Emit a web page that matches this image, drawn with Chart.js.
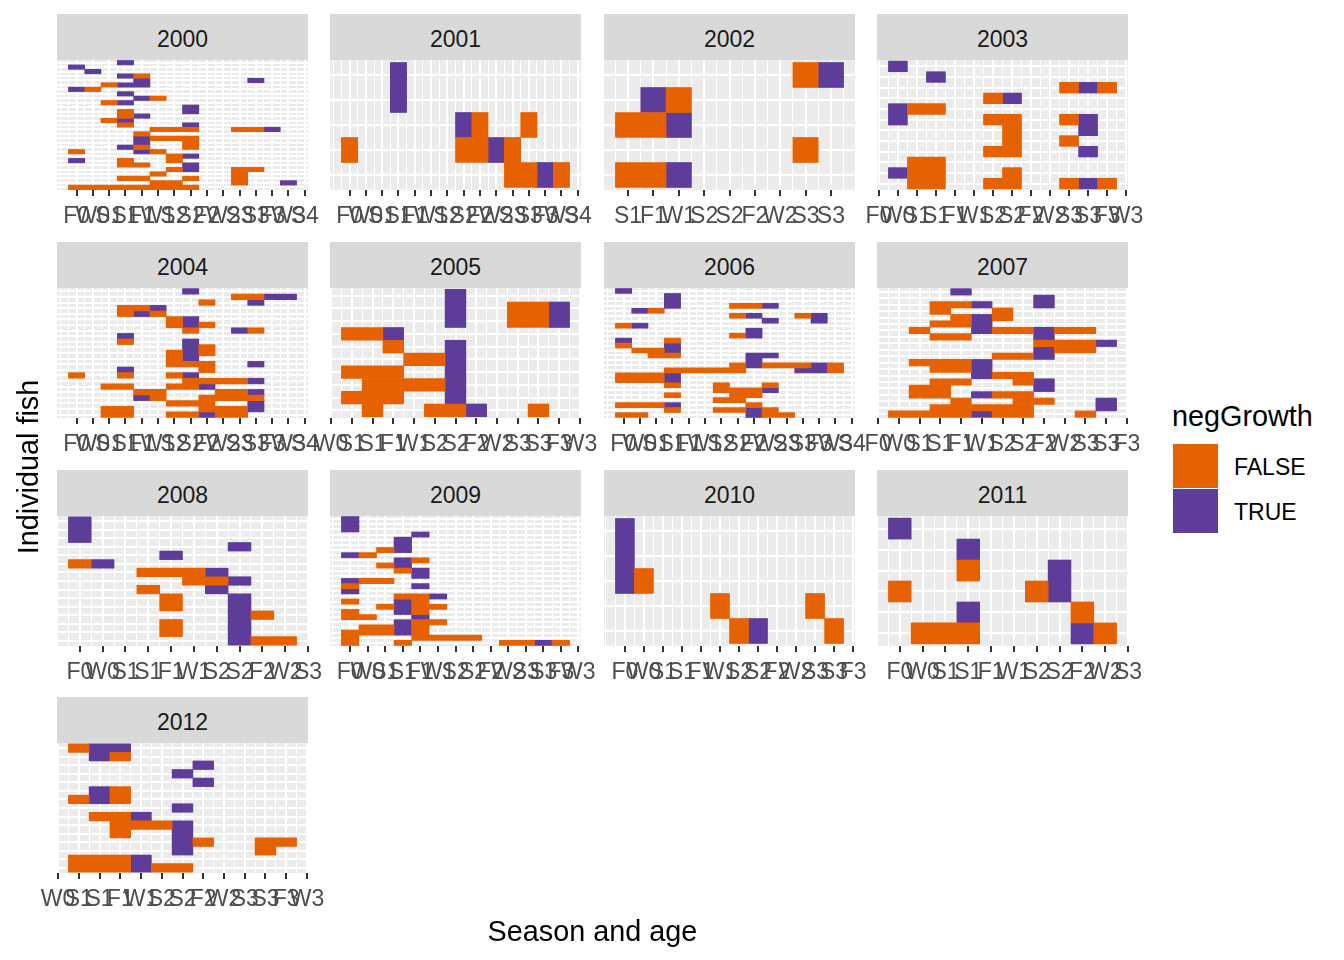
<!DOCTYPE html>
<html><head><meta charset="utf-8">
<script src="https://cdn.jsdelivr.net/npm/chart.js@4.4.1/dist/chart.umd.min.js"></script>
<style>
html,body{margin:0;padding:0;background:#fff;}
#fig{position:relative;width:1344px;height:960px;overflow:hidden;font-family:"Liberation Sans",Arial,sans-serif;}
.strip{position:absolute;background:#D9D9D9;color:#1A1A1A;font-size:23px;text-align:center;line-height:50px;height:46px;overflow:hidden;}
canvas{position:absolute;}
.txt{position:absolute;white-space:nowrap;}
</style></head><body><div id="fig"></div>
<script>
// ---------- DATA ----------
// row strings, top row first: '.' = no tile, 'F' = negGrowth FALSE, 'T' = negGrowth TRUE
const ticks2000 = ['F0','W0','S1','S1','F1','W1','S2','S2','F2','W2','S3','S3','F3','W3','S4'];
const start2000 = 1;
const rows2000 = ["...T..........","T.............",".T............","...TF.........","....T......T..","..FTT.........","TF............","...T..........","....TF........","..FT..........",".......T......","...F...T......","...FT.........","..FT..........","...F...T......",".....FFF..FFT.","....F.........","....TFFF......","....T..F......","...TF..F......","F...TF........","......FT......","T..F..F.......","...FF..T......","......FT..FF..",".....F....F...","...FF..F..F...",".....FF...F..T","FFFFFFFF......"];

const ticks2001 = ['F0','W0','S1','S1','F1','W1','S2','S2','F2','W2','S3','S3','F3','W3','S4'];
const start2001 = 1;
const rows2001 = ["...T..........","...T..........",".......TF..F..","F......FFTF...","..........FFTF"];

const ticks2002 = ['S1','F1','W1','S2','S2','F2','W2','S3','S3'];
const start2002 = 1;
const rows2002 = [".......FT",".TF......","FFT......",".......F.","FFT......"];

const ticks2003 = ['F0','W0','S1','S1','F1','W1','S2','S2','F2','W2','S3','S3','F3','W3'];
const start2003 = 0;
const rows2003 = ["T...........","..T.........",".........FTF",".....FT.....","TFF.........","T....FF..FT.","......F...T.","......F..F..",".....FF...T.",".FF.........","TFF...F.....",".FF..FF..FTF"];

const ticks2004 = ['F0','W0','S1','S1','F1','W1','S2','S2','F2','W2','S3','S3','F3','W3','S4'];
const start2004 = 1;
const rows2004 = [".......T......","..........FFTT","........F..T..","...FFT........","...FTF........","......FT......","......FTF.....",".......F..TF..","...T..........","...F...T......",".......TF.....","......FTF.....","......FT......","......FFF..T..","...T....F.....","F..F..FT......",".......FFFFT..","..FF..FFT.....","....FF...FFT..","....TF..FFFF..","......FFF..T..","..FF....FFFT..","..FF..FFTFF..."];

const ticks2005 = ['W0','S1','S1','F1','W1','S2','S2','F2','W2','S3','S3','F3','W3'];
const start2005 = 0;
const rows2005 = [".....T.....",".....T..FFT",".....T..FFT","FFT........","..F..T.....","...FFT.....","FFF..T.....",".FFFFT.....","FFF..T.....",".F..FFT..F."];

const ticks2006 = ['F0','W0','S1','S1','F1','W1','S2','S2','F2','W2','S3','S3','F3','W3','S4'];
const start2006 = 1;
const rows2006 = ["T.............","...T..........","...T..........","...T...FFT....",".TF...........",".......FT..FT.",".........T..T.","FT............","........T.....",".......FT.....","T..F..........","F..T..........",".FFT..........","..FF....TT....","........T.....",".......FTFFFTF","...FFFFF...TTF","FFFT..........","FFFT..........","...F..F..F....","......FFFT....","...F...FF.....","......FF......","FFFT....F.....","...F..FFTF....","FF......TFF..."];

const ticks2007 = ['F0','W0','S1','S1','F1','W1','S2','S2','F2','W2','S3','S3','F3'];
const start2007 = 0;
const rows2007 = ["...T.......",".......T...","..FFT..T...","..F..F.....","...FTF.....","..FFT......",".F..TFFTFF.","..FF...T...",".......FFFT",".......TFF.",".....FFT...",".FFFT......","..FFT......","....TFF....","..FF..FT...",".FF....T...",".FF.TFF....","...F..FF..T","..FFFFF...T","FFFFTFF..F."];

const ticks2008 = ['F0','W0','S1','S1','F1','W1','S2','S2','F2','W2','S3'];
const start2008 = 1;
const rows2008 = ["T.........","T.........","T.........",".......T..","....T.....","FT........","...FFFT...",".....FFT..","...F..T...","....F..T..","....F..T..",".......TF.","....F..T..","....F..T..",".......TFF"];

const ticks2009 = ['F0','W0','S1','S1','F1','W1','S2','S2','F2','W2','S3','S3','F3','W3'];
const start2009 = 1;
const rows2009 = ["T............","T............","T............","....T........","...T.........","...T.........","..FT.........","TF...........","...TF........","..FT.........","...FT........","....T........","TFF..........","F...T........","T............","...FFT.......","F..TF........","..FTFF.......","F..TF........","FF..T........","...TFF.......",".FFTF........","FFFTF........","F...FFFF.....","F..F.....FFTF"];

const ticks2010 = ['F0','W0','S1','S1','F1','W1','S2','S2','F2','W2','S3','S3','F3'];
const start2010 = 1;
const rows2010 = ["T...........","T...........","TF..........",".....F....F.","......FT...F"];

const ticks2011 = ['F0','W0','S1','S1','F1','W1','S2','S2','F2','W2','S3'];
const start2011 = 1;
const rows2011 = ["T.........","...T......","...F...T..","F.....FT..","...T....F.",".FFF....TF"];

const ticks2012 = ['W0','S1','S1','F1','W1','S2','S2','F2','W2','S3','S3','F3','W3'];
const start2012 = 0;
const rows2012 = ["FTT........",".TF........","......T....",".....T.....","......T....",".TF........","FTF........",".....T.....",".FFT.......","..FFFT.....","..F..T.....",".....TF..FF",".....T...F.","FFFT.......","FFFTFF....."];

const legendLabels = ['FALSE','TRUE'];
const legendTitle = 'negGrowth';
const xTitle = 'Season and age';
const yTitle = 'Individual fish';

// ---------- table built from the arrays ----------
const facets = [
  {year:'2000', ticks:ticks2000, start:start2000, rows:rows2000},
  {year:'2001', ticks:ticks2001, start:start2001, rows:rows2001},
  {year:'2002', ticks:ticks2002, start:start2002, rows:rows2002},
  {year:'2003', ticks:ticks2003, start:start2003, rows:rows2003},
  {year:'2004', ticks:ticks2004, start:start2004, rows:rows2004},
  {year:'2005', ticks:ticks2005, start:start2005, rows:rows2005},
  {year:'2006', ticks:ticks2006, start:start2006, rows:rows2006},
  {year:'2007', ticks:ticks2007, start:start2007, rows:rows2007},
  {year:'2008', ticks:ticks2008, start:start2008, rows:rows2008},
  {year:'2009', ticks:ticks2009, start:start2009, rows:rows2009},
  {year:'2010', ticks:ticks2010, start:start2010, rows:rows2010},
  {year:'2011', ticks:ticks2011, start:start2011, rows:rows2011},
  {year:'2012', ticks:ticks2012, start:start2012, rows:rows2012}
];

// ---------- styling / layout ----------
const COL_FALSE = '#E66101', COL_TRUE = '#5E3C99';
const panelLeft = [57, 330, 604, 877];
const panelTop = [60, 288, 516, 743];
const PW = 251, PH = 130, STRIP_H = 46, MARGIN = 30, AXIS_H = 50;
const FONT = '"Liberation Sans", Arial, sans-serif';
const fig = document.getElementById('fig');

const panelBg = {
  id: 'panelBg',
  beforeDraw(chart) {
    const a = chart.chartArea, ctx = chart.ctx;
    ctx.save(); ctx.fillStyle = '#EBEBEB';
    ctx.fillRect(a.left, a.top, a.right - a.left, a.bottom - a.top);
    ctx.restore();
  }
};

function addText(txt, css) {
  const d = document.createElement('div');
  d.className = 'txt'; d.textContent = txt;
  Object.assign(d.style, css);
  fig.appendChild(d);
  return d;
}

facets.forEach((f, k) => {
  const col = k % 4, row = Math.floor(k / 4);
  const L = panelLeft[col], T = panelTop[row];

  const s = document.createElement('div');
  s.className = 'strip';
  s.style.left = L + 'px'; s.style.top = (T - STRIP_H) + 'px'; s.style.width = PW + 'px';
  s.textContent = f.year;
  fig.appendChild(s);

  const cv = document.createElement('canvas');
  cv.width = PW + 2 * MARGIN; cv.height = PH + AXIS_H;
  cv.style.left = (L - MARGIN) + 'px'; cv.style.top = T + 'px';
  cv.style.width = (PW + 2 * MARGIN) + 'px'; cv.style.height = (PH + AXIS_H) + 'px';
  fig.appendChild(cv);

  const n = f.rows.length, ncol = f.rows[0].length;
  const exp = 0.05 * ncol;
  const xmin = 0.5 - exp, xmax = ncol + 0.5 + exp;
  const labelMap = new Map();
  f.ticks.forEach((lab, i) => {
    const v = f.start + i;
    if (v >= xmin - 1e-9 && v <= xmax + 1e-9) labelMap.set(v, lab);
  });
  const xTicks = [];
  for (let v = Math.ceil(xmin * 2) / 2; v <= xmax + 1e-9; v += 0.5) xTicks.push(v);
  const rowVals = [];
  for (let r = 1; r <= n; r++) rowVals.push(r);
  const isMajor = (c) => c && c.tick && labelMap.has(c.tick.value);

  const runs = {F: [], T: []};
  f.rows.forEach((str, i) => {
    const y = n - i;
    let c = 0;
    while (c < str.length) {
      const ch = str[c];
      if (ch === '.') { c++; continue; }
      let e = c;
      while (e + 1 < str.length && str[e + 1] === ch) e++;
      runs[ch].push({x: [c + 0.5, e + 1.5], y: y});
      c = e + 1;
    }
  });

  new Chart(cv, {
    type: 'bar',
    data: {datasets: [
      {label: legendLabels[0], data: runs.F, backgroundColor: COL_FALSE, grouped: false, barPercentage: 1, categoryPercentage: 1, borderWidth: 0},
      {label: legendLabels[1], data: runs.T, backgroundColor: COL_TRUE, grouped: false, barPercentage: 1, categoryPercentage: 1, borderWidth: 0}
    ]},
    options: {
      indexAxis: 'y', responsive: false, animation: false, events: [],
      layout: {padding: {left: MARGIN, right: MARGIN, top: 0, bottom: 0}},
      plugins: {legend: {display: false}, tooltip: {enabled: false}},
      scales: {
        x: {
          type: 'linear', position: 'bottom', min: xmin, max: xmax, bounds: 'data', offset: false,
          afterBuildTicks: (ax) => { ax.ticks = xTicks.map(v => ({value: v})); },
          afterFit: (ax) => { ax.height = AXIS_H; },
          grid: {
            color: '#FFFFFF', offset: false, drawTicks: true, tickLength: 6,
            lineWidth: (c) => isMajor(c) ? 2 : 1,
            tickWidth: (c) => isMajor(c) ? 2 : 0,
            tickColor: (c) => isMajor(c) ? '#333333' : 'rgba(0,0,0,0)'
          },
          border: {display: false},
          ticks: {
            autoSkip: false, maxRotation: 0, minRotation: 0, padding: 7, color: '#4D4D4D',
            font: {family: FONT, size: 23},
            callback: (v) => labelMap.has(v) ? labelMap.get(v) : ''
          }
        },
        y: {
          type: 'linear', min: 0.4, max: n + 0.6, bounds: 'data', offset: false,
          afterBuildTicks: (ax) => { ax.ticks = rowVals.map(v => ({value: v})); },
          afterFit: (ax) => { ax.width = 0; },
          grid: {color: '#FFFFFF', lineWidth: 2, drawTicks: false, offset: false},
          border: {display: false},
          ticks: {display: false}
        }
      }
    },
    plugins: [panelBg]
  });
});

// axis titles
addText(xTitle, {left: '0px', width: '1185px', textAlign: 'center', top: '914px', lineHeight: '34px', fontSize: '28.8px', color: '#000'});
addText(yTitle, {left: (28 - 150) + 'px', width: '300px', textAlign: 'center', top: (467 - 17) + 'px', lineHeight: '34px', fontSize: '28.8px', color: '#000', transform: 'rotate(-90deg)'});

// legend
addText(legendTitle, {left: '1172px', top: (416 - 17) + 'px', lineHeight: '34px', fontSize: '28.8px', color: '#000'});
const keyCols = [COL_FALSE, COL_TRUE];
legendLabels.forEach((lab, i) => {
  const top = 444 + i * 45;
  const key = document.createElement('div');
  Object.assign(key.style, {position: 'absolute', left: '1173px', top: top + 'px', width: '45px', height: '44px', background: keyCols[i]});
  fig.appendChild(key);
  addText(lab, {left: '1234px', top: (top + 23 - 14) + 'px', lineHeight: '28px', fontSize: '23px', color: '#000'});
});
</script></body></html>
